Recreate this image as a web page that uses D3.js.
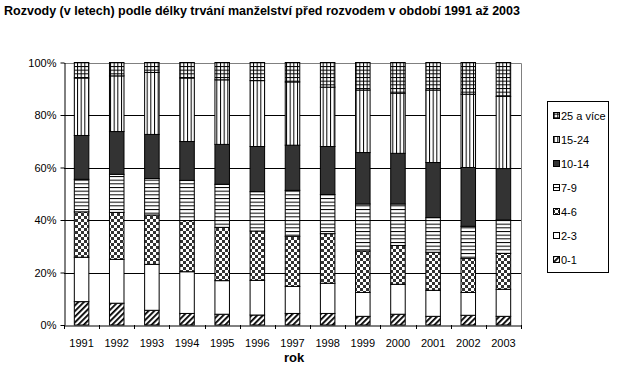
<!DOCTYPE html>
<html><head><meta charset="utf-8">
<script src="https://cdn.jsdelivr.net/npm/d3@7/dist/d3.min.js"></script>
<style>body{margin:0;background:#fff}svg{display:block}text{font-family:Arial,"Liberation Sans",sans-serif}</style>
</head><body>
<script>
const years = ["1991","1992","1993","1994","1995","1996","1997","1998","1999","2000","2001","2002","2003"];
const seriesNames = ["0-1","2-3","4-6","7-9","10-14","15-24","25 a více"];
const s01   = [8.9, 8.3, 5.6, 4.4, 4.1, 3.8, 4.4, 4.4, 3.3, 4.1, 3.3, 3.7, 3.3];
const s23   = [16.9,16.7,17.5,15.9,12.8,13.2,10.3,11.5, 9.1,11.4, 9.9, 8.7,10.3];
const s46   = [17.3,17.9,18.8,19.5,20.3,18.8,19.1,18.9,15.8,14.8,14.5,13.0,13.7];
const s79   = [12.4,14.5,13.9,15.3,16.4,15.0,17.5,14.9,17.9,15.8,13.2,12.2,12.7];
const s1014 = [16.7,16.3,16.8,14.8,15.2,17.2,17.2,18.3,19.6,19.3,21.0,22.4,19.6];
const s1524 = [21.9,21.2,23.6,24.2,24.6,25.1,24.1,22.6,23.8,22.9,27.6,27.9,27.5];
const s25   = [5.9, 5.1, 3.8, 5.9, 6.6, 6.9, 7.4, 9.4,10.5,11.7,10.5,12.1,12.9];
const seriesValues = [s01,s23,s46,s79,s1014,s1524,s25];
const yTicks = [0,20,40,60,80,100];
const titleText = "Rozvody (v letech) podle délky trvání manželství před rozvodem v období 1991 až 2003";
const xTitle = "rok";

const W=633,H=383;
const svg=d3.select("body").append("svg").attr("width",W).attr("height",H);
const defs=svg.append("defs");
const pats=["p0","p1","p2","p3","p4","p5","p6"];
// 0-1 diagonal
let p=defs.append("pattern").attr("id","p0").attr("patternUnits","userSpaceOnUse").attr("width",4).attr("height",4).attr("patternTransform","rotate(45)");
p.append("rect").attr("width",4).attr("height",4).attr("fill","#fff");
p.append("rect").attr("width",1.8).attr("height",4).attr("fill","#000");
// 2-3 white
p=defs.append("pattern").attr("id","p1").attr("patternUnits","userSpaceOnUse").attr("width",4).attr("height",4);
p.append("rect").attr("width",4).attr("height",4).attr("fill","#fff");
// 4-6 checker
p=defs.append("pattern").attr("id","p2").attr("patternUnits","userSpaceOnUse").attr("width",6).attr("height",6);
p.append("rect").attr("width",6).attr("height",6).attr("fill","#fff");
p.append("rect").attr("width",3).attr("height",3).attr("fill","#333");
p.append("rect").attr("x",3).attr("y",3).attr("width",3).attr("height",3).attr("fill","#333");
// 7-9 horizontal
const sp=11/3;
p=defs.append("pattern").attr("id","p3").attr("patternUnits","userSpaceOnUse").attr("width",4).attr("height",sp);
p.append("rect").attr("width",4).attr("height",sp).attr("fill","#fff");
p.append("rect").attr("width",4).attr("height",1).attr("fill","#000");
// 10-14 solid
p=defs.append("pattern").attr("id","p4").attr("patternUnits","userSpaceOnUse").attr("width",4).attr("height",4);
p.append("rect").attr("width",4).attr("height",4).attr("fill","#333");
// 15-24 vertical
p=defs.append("pattern").attr("id","p5").attr("patternUnits","userSpaceOnUse").attr("width",sp).attr("height",4);
p.append("rect").attr("width",sp).attr("height",4).attr("fill","#fff");
p.append("rect").attr("width",1).attr("height",4).attr("fill","#000");
// 25+ grid
p=defs.append("pattern").attr("id","p6").attr("patternUnits","userSpaceOnUse").attr("width",sp).attr("height",sp);
p.append("rect").attr("width",sp).attr("height",sp).attr("fill","#fff");
p.append("rect").attr("width",1).attr("height",sp).attr("fill","#000");
p.append("rect").attr("width",sp).attr("height",1).attr("fill","#000");

const L=64,R=521,T=62.5,B=325;
const x=d3.scaleBand().domain(years).range([L,R]).paddingInner(0.587).paddingOuter(0.2935);
const y=d3.scaleLinear().domain([0,100]).range([B,T]);

// gridlines
svg.append("g").selectAll("line").data(yTicks.filter(d=>d>0&&d<100)).join("line")
  .attr("x1",L).attr("x2",R).attr("y1",d=>Math.round(y(d))+0.5).attr("y2",d=>Math.round(y(d))+0.5)
  .attr("stroke","#000").attr("stroke-width",1);
// plot border top/right grey
svg.append("path").attr("d",`M${L},${Math.round(T)+0.5}H${R+0.5}V${B}`).attr("fill","none").attr("stroke","#808080");

// stacked data
const table=years.map((yr,i)=>{const o={year:yr};seriesNames.forEach((n,j)=>o[n]=seriesValues[j][i]);return o;});
const stack=d3.stack().keys(seriesNames)(table);
svg.append("g").selectAll("g").data(stack).join("g")
  .attr("fill",(d,i)=>`url(#${pats[i]})`)
  .selectAll("rect").data(d=>d).join("rect")
  .attr("x",d=>x(d.data.year)).attr("width",x.bandwidth())
  .attr("y",d=>y(d[1])).attr("height",d=>y(d[0])-y(d[1]))
  .attr("stroke","#000").attr("stroke-width",1);

// y axis
const ya=svg.append("g").attr("transform",`translate(${L+0.5},0)`)
  .call(d3.axisLeft(y).tickValues(yTicks).tickFormat(d=>d+"%").tickSize(4).tickSizeOuter(0));
ya.select(".domain").attr("stroke","#000");
ya.selectAll(".tick line").attr("stroke","#000");
ya.selectAll("text").attr("font-size",11).attr("fill","#000").attr("x",-8).attr("font-family","Arial, 'Liberation Sans', sans-serif");
// x axis
const xa=svg.append("g").attr("transform",`translate(0,${B+0.5})`)
  .call(d3.axisBottom(x).tickSize(0).tickSizeOuter(0));
xa.select(".domain").attr("stroke","#000");
xa.selectAll("text").attr("font-size",11).attr("fill","#000").attr("dy",0).attr("y",21).attr("font-family","Arial, 'Liberation Sans', sans-serif");
// x ticks at band boundaries
const bounds=years.map(d=>x(d)-x.step()*x.paddingInner()/2).concat([R]);
svg.append("g").selectAll("line").data(bounds).join("line")
  .attr("x1",d=>Math.round(d)+0.5).attr("x2",d=>Math.round(d)+0.5).attr("y1",B).attr("y2",B+4)
  .attr("stroke","#000");

// titles
svg.append("text").attr("x",4).attr("y",15).attr("font-size",13).attr("font-weight","bold")
  .attr("textLength",516).attr("lengthAdjust","spacingAndGlyphs").text(titleText);
svg.append("text").attr("x",294).attr("y",362).attr("text-anchor","middle").attr("font-size",13).attr("font-weight","bold").text(xTitle);

// legend
const lg=svg.append("g");
lg.append("rect").attr("x",547.5).attr("y",101.5).attr("width",61).attr("height",171).attr("fill","#fff").attr("stroke","#000");
const legOrder=seriesNames.map((n,i)=>i).reverse();
legOrder.forEach((si,k)=>{
  const cy=116+k*24;
  lg.append("rect").attr("x",553.5).attr("y",cy-3.5).attr("width",6).attr("height",6)
    .attr("fill",`url(#${pats[si]})`).attr("stroke","#000");
  lg.append("text").attr("x",561).attr("y",cy+4).attr("font-size",11).text(seriesNames[si]);
});
</script>
</body></html>
